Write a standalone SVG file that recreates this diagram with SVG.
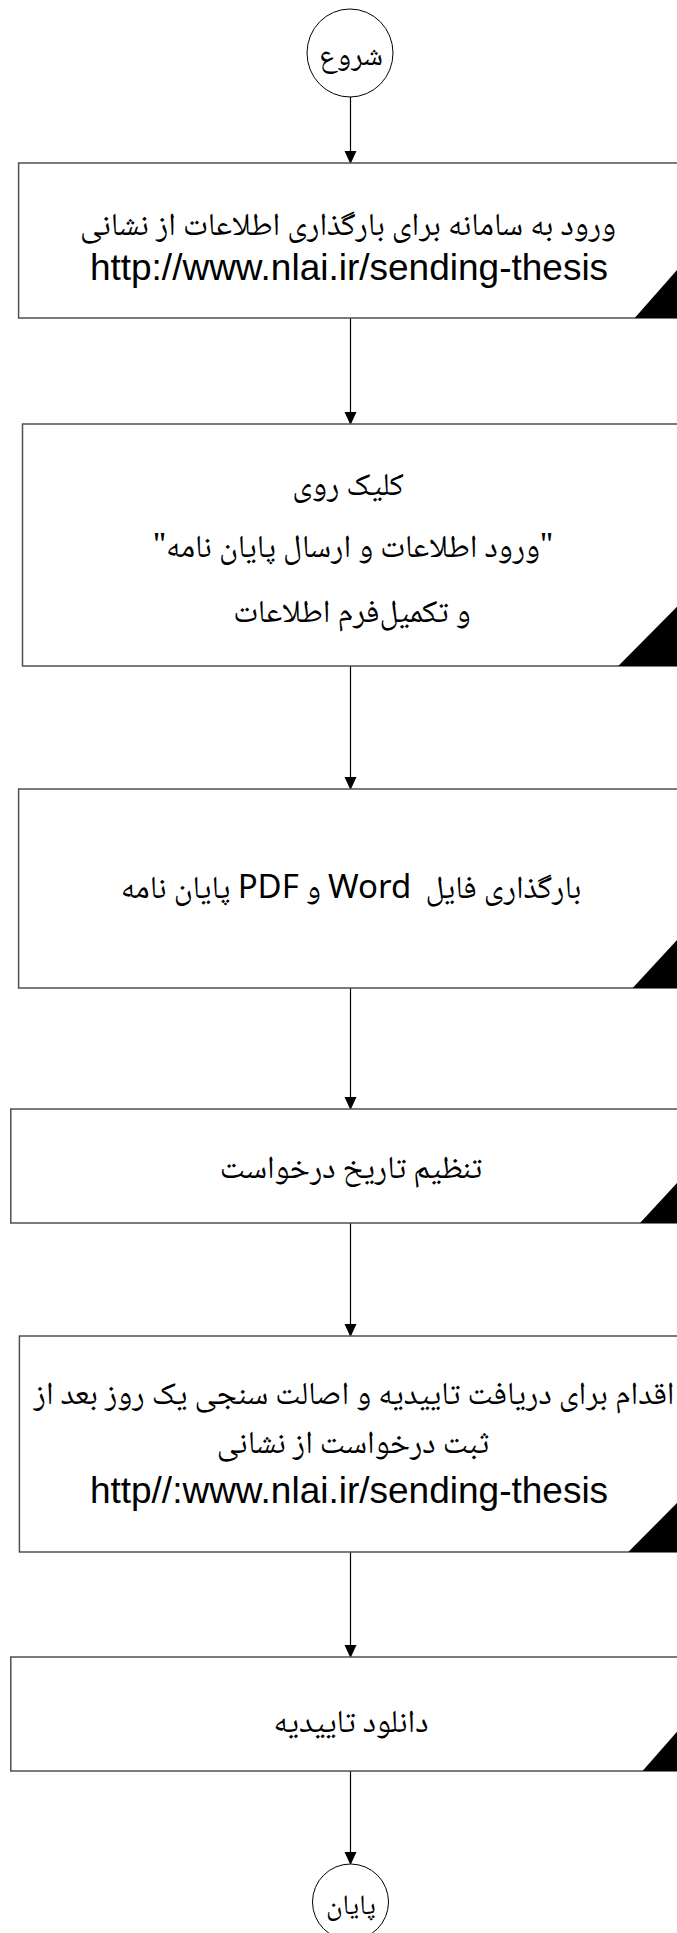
<svg xmlns="http://www.w3.org/2000/svg" width="677" height="1933" viewBox="0 0 677 1933">
<defs>
<marker id="arr" markerWidth="13" markerHeight="14" refX="13" refY="6.5" orient="auto" markerUnits="userSpaceOnUse" viewBox="0 0 14 13">
<path d="M0,0 L14,6.5 L0,13 Z" fill="#000"/>
</marker>
<style>
.box{fill:#fff;stroke:#505050;stroke-width:1.5}
.tri{fill:#000}
.term{fill:#fff;stroke:#000;stroke-width:1}
.ar{font-family:"Noto Naskh Arabic","Noto Sans Arabic","DejaVu Sans",sans-serif;font-size:32px;fill:#000;text-anchor:middle;direction:rtl;white-space:pre}
.lt{font-family:"Noto Sans","Open Sans",sans-serif;font-size:33px}
.en{font-family:"Liberation Sans",Arial,sans-serif;font-size:37px;fill:#000;text-anchor:middle}
.con{stroke:#000;stroke-width:1.2;fill:none;marker-end:url(#arr)}
</style>
</defs>
<rect width="677" height="1933" fill="#fff"/>
<g id="connectors">
<line class="con" x1="350.5" y1="97" x2="350.5" y2="163"/>
<line class="con" x1="350.5" y1="318" x2="350.5" y2="424"/>
<line class="con" x1="350.5" y1="666" x2="350.5" y2="789"/>
<line class="con" x1="350.5" y1="988" x2="350.5" y2="1109"/>
<line class="con" x1="350.5" y1="1223" x2="350.5" y2="1336"/>
<line class="con" x1="350.5" y1="1552" x2="350.5" y2="1657"/>
<line class="con" x1="350.5" y1="1771" x2="350.5" y2="1864"/>
</g>
<g id="start">
<ellipse class="term" cx="350" cy="53" rx="43" ry="44"/>
<text class="ar" x="351" y="65" style="font-size:30px">شروع</text>
</g>
<g id="step1">
<rect class="box" x="18.6" y="163" width="700" height="155"/>
<polygon class="tri" points="634.7,318 677,270 677,318"/>
<text class="ar" x="348" y="235">ورود به سامانه برای بارگذاری اطلاعات از نشانی</text>
<text class="en" x="349" y="280">http://www.nlai.ir/sending-thesis</text>
</g>
<g id="step2">
<rect class="box" x="22.5" y="424" width="700" height="242"/>
<polygon class="tri" points="618.3,666 677,606.7 677,666"/>
<text class="ar" x="348" y="495">کلیک روی</text>
<text class="ar" x="353" y="557">"ورود اطلاعات و ارسال پایان نامه"</text>
<text class="ar" x="352" y="622">و تکمیل&#x200C;فرم اطلاعات</text>
</g>
<g id="step3">
<rect class="box" x="18.6" y="789" width="700" height="199"/>
<polygon class="tri" points="632.7,988 677,940 677,988"/>
<text class="ar" x="351" y="898">بارگذاری فایل  <tspan class="lt">Word</tspan> و <tspan class="lt">PDF</tspan> پایان نامه</text>
</g>
<g id="step4">
<rect class="box" x="10.8" y="1109" width="700" height="114"/>
<polygon class="tri" points="640,1223 677,1183 677,1223"/>
<text class="ar" x="351" y="1178">تنظیم تاریخ درخواست</text>
</g>
<g id="step5">
<rect class="box" x="19.4" y="1336" width="700" height="216"/>
<polygon class="tri" points="628.3,1552 677,1503 677,1552"/>
<text class="ar" x="354" y="1404">اقدام برای دریافت تاییدیه و اصالت سنجی یک روز بعد از</text>
<text class="ar" x="353" y="1453">ثبت درخواست از نشانی</text>
<text class="en" x="349" y="1503">http//:www.nlai.ir/sending-thesis</text>
</g>
<g id="step6">
<rect class="box" x="10.8" y="1657" width="700" height="114"/>
<polygon class="tri" points="642.5,1771 677,1731.7 677,1771"/>
<text class="ar" x="351" y="1732">دانلود تاییدیه</text>
</g>
<g id="end">
<ellipse class="term" cx="350.5" cy="1902" rx="38" ry="38"/>
<text class="ar" x="351" y="1914" style="font-size:28px">پایان</text>
</g>
</svg>
